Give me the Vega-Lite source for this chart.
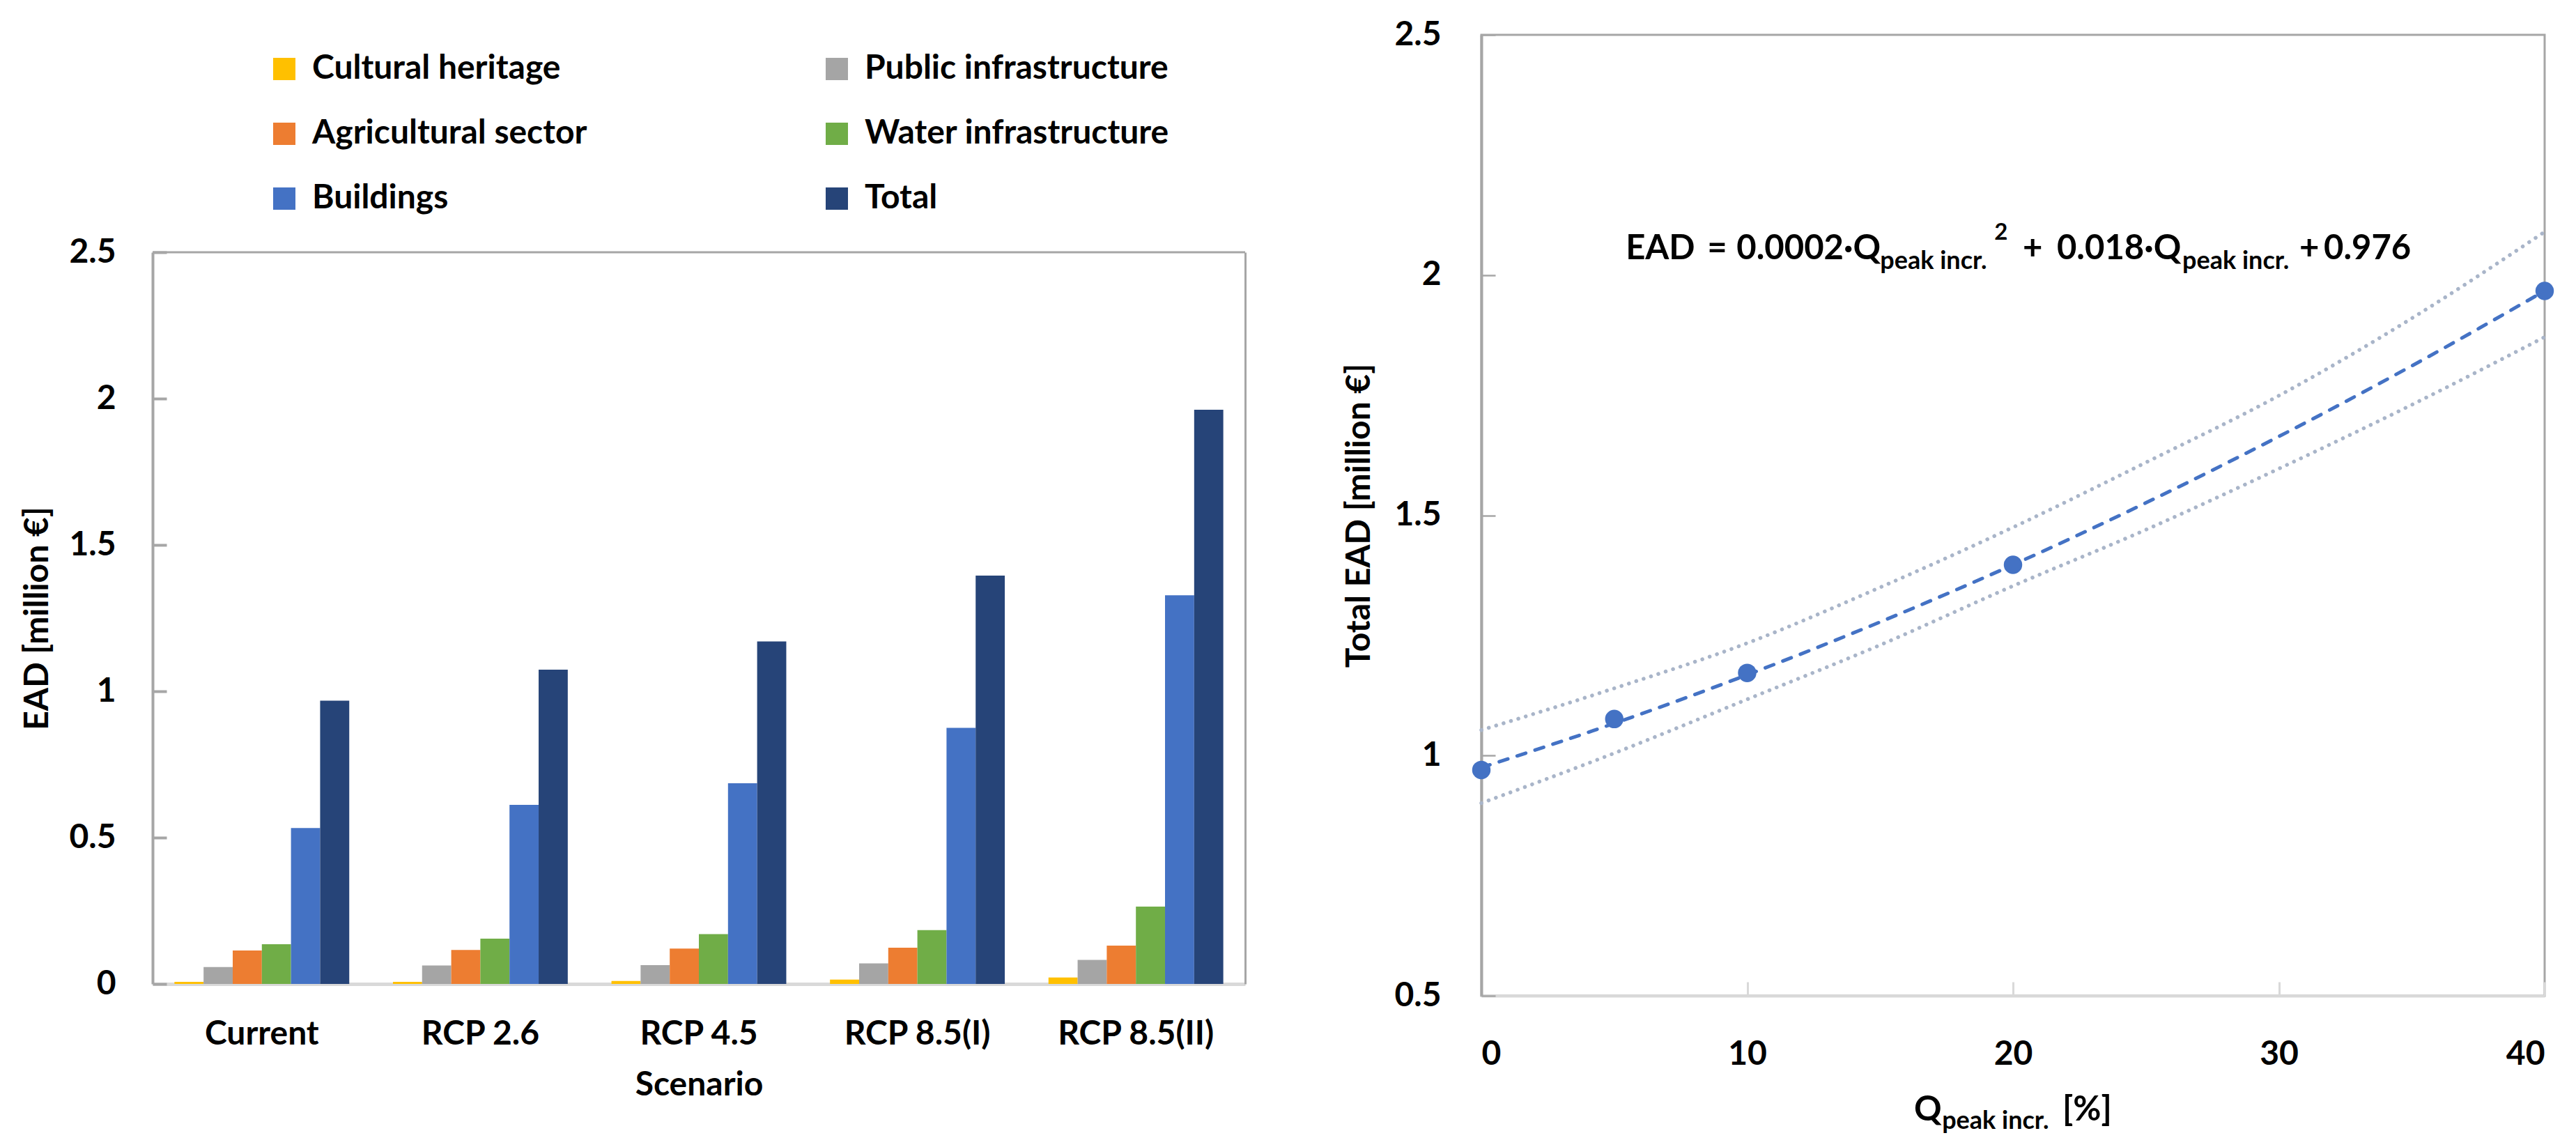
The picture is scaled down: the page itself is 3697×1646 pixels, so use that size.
{
  "$schema": "https://vega.github.io/schema/vega-lite/v6.json",
  "background": "white",
  "padding": {"left": 30, "top": 24, "right": 0, "bottom": 0},
  "spacing": 137,
  "config": {
    "font": "Lato",
    "view": {"stroke": "#a6a6a6", "strokeWidth": 3},
    "axis": {
      "labelFont": "Lato", "labelFontWeight": "bold", "labelFontSize": 48, "labelColor": "#000000",
      "titleFont": "Lato", "titleFontWeight": "bold", "titleFontSize": 48, "titleColor": "#000000",
      "grid": false, "labelLimit": 1000
    },
    "text": {"font": "Lato", "fontWeight": "bold", "color": "#000000", "align": "left", "baseline": "alphabetic"}
  },
  "datasets": {
    "bars": [
      {"scenario": "Current", "category": "Cultural heritage", "value": 0.007},
      {"scenario": "Current", "category": "Public infrastructure", "value": 0.058},
      {"scenario": "Current", "category": "Agricultural sector", "value": 0.114},
      {"scenario": "Current", "category": "Water infrastructure", "value": 0.136},
      {"scenario": "Current", "category": "Buildings", "value": 0.533},
      {"scenario": "Current", "category": "Total", "value": 0.968},
      {"scenario": "RCP 2.6", "category": "Cultural heritage", "value": 0.007},
      {"scenario": "RCP 2.6", "category": "Public infrastructure", "value": 0.063},
      {"scenario": "RCP 2.6", "category": "Agricultural sector", "value": 0.116},
      {"scenario": "RCP 2.6", "category": "Water infrastructure", "value": 0.155},
      {"scenario": "RCP 2.6", "category": "Buildings", "value": 0.612},
      {"scenario": "RCP 2.6", "category": "Total", "value": 1.074},
      {"scenario": "RCP 4.5", "category": "Cultural heritage", "value": 0.010},
      {"scenario": "RCP 4.5", "category": "Public infrastructure", "value": 0.064},
      {"scenario": "RCP 4.5", "category": "Agricultural sector", "value": 0.121},
      {"scenario": "RCP 4.5", "category": "Water infrastructure", "value": 0.170},
      {"scenario": "RCP 4.5", "category": "Buildings", "value": 0.686},
      {"scenario": "RCP 4.5", "category": "Total", "value": 1.170},
      {"scenario": "RCP 8.5(I)", "category": "Cultural heritage", "value": 0.015},
      {"scenario": "RCP 8.5(I)", "category": "Public infrastructure", "value": 0.070},
      {"scenario": "RCP 8.5(I)", "category": "Agricultural sector", "value": 0.124},
      {"scenario": "RCP 8.5(I)", "category": "Water infrastructure", "value": 0.184},
      {"scenario": "RCP 8.5(I)", "category": "Buildings", "value": 0.875},
      {"scenario": "RCP 8.5(I)", "category": "Total", "value": 1.395},
      {"scenario": "RCP 8.5(II)", "category": "Cultural heritage", "value": 0.022},
      {"scenario": "RCP 8.5(II)", "category": "Public infrastructure", "value": 0.082},
      {"scenario": "RCP 8.5(II)", "category": "Agricultural sector", "value": 0.131},
      {"scenario": "RCP 8.5(II)", "category": "Water infrastructure", "value": 0.264},
      {"scenario": "RCP 8.5(II)", "category": "Buildings", "value": 1.328},
      {"scenario": "RCP 8.5(II)", "category": "Total", "value": 1.962}
    ],
    "points": [
      {"q": 0, "ead": 0.970},
      {"q": 5, "ead": 1.076},
      {"q": 10, "ead": 1.172},
      {"q": 20, "ead": 1.397},
      {"q": 40, "ead": 1.967}
    ],
    "curves": [
      {"q": 0, "fit": 0.975, "upper": 1.053, "lower": 0.901},
      {"q": 5, "fit": 1.067, "upper": 1.140, "lower": 1.005},
      {"q": 10, "fit": 1.168, "upper": 1.234, "lower": 1.117},
      {"q": 15, "fit": 1.278, "upper": 1.350, "lower": 1.230},
      {"q": 20, "fit": 1.397, "upper": 1.475, "lower": 1.353},
      {"q": 25, "fit": 1.526, "upper": 1.610, "lower": 1.470},
      {"q": 30, "fit": 1.664, "upper": 1.749, "lower": 1.597},
      {"q": 35, "fit": 1.811, "upper": 1.910, "lower": 1.730},
      {"q": 40, "fit": 1.967, "upper": 2.090, "lower": 1.871}
    ]
  },
  "hconcat": [
    {
      "width": 1568,
      "height": 1362,
      "view": {"stroke": null},
      "layer": [
        {
          "data": {"name": "bars"},
          "mark": {"type": "bar"},
          "encoding": {
            "x": {
              "field": "scenario", "type": "nominal",
              "sort": ["Current", "RCP 2.6", "RCP 4.5", "RCP 8.5(I)", "RCP 8.5(II)"],
              "scale": {"paddingInner": 0.2, "paddingOuter": 0.1},
              "axis": {"title": "Scenario", "labelAngle": 0, "ticks": false, "domainColor": "#d9d9d9", "domainWidth": 5, "labelPadding": 48, "titlePadding": 25}
            },
            "xOffset": {
              "field": "category", "type": "nominal",
              "sort": ["Cultural heritage", "Public infrastructure", "Agricultural sector", "Water infrastructure", "Buildings", "Total"],
              "scale": {"paddingInner": 0, "paddingOuter": 0}
            },
            "y": {
              "field": "value", "type": "quantitative",
              "scale": {"domain": [0, 2.5], "range": [1362, 312], "nice": false, "padding": 0},
              "axis": {"title": "EAD [million €]", "values": [0, 0.5, 1, 1.5, 2, 2.5], "format": ".1~f", "domainColor": "#a6a6a6", "domainWidth": 4, "tickColor": "#a6a6a6", "tickWidth": 4, "tickSize": -20, "labelPadding": 73, "titlePadding": 20}
            },
            "color": {
              "field": "category", "type": "nominal",
              "scale": {
                "domain": ["Cultural heritage", "Public infrastructure", "Agricultural sector", "Water infrastructure", "Buildings", "Total"],
                "range": ["#FFC000", "#A5A5A5", "#ED7D31", "#70AD47", "#4472C4", "#264478"]
              },
              "legend": {
                "title": null, "orient": "none", "legendX": 165, "legendY": 25, "direction": "horizontal",
                "columns": 2, "columnPadding": 334, "rowPadding": 45,
                "symbolType": "square", "symbolSize": 1024, "symbolStrokeWidth": 0, "symbolOpacity": 1,
                "labelFont": "Lato", "labelFontWeight": "bold", "labelFontSize": 48, "labelColor": "#000000",
                "labelOffset": 16, "labelLimit": 1000
              }
            }
          }
        },
        {
          "data": {"values": [{"edge": "top"}]},
          "mark": {"type": "rule", "color": "#a6a6a6", "strokeWidth": 3},
          "encoding": {
            "y": {"datum": 2.5, "type": "quantitative",
              "axis": {"orient": "right", "labels": false, "ticks": false, "title": null, "domainColor": "#a6a6a6", "domainWidth": 3}}
          }
        }
      ],
      "resolve": {"axis": {"y": "independent"}}
    },
    {
      "width": 1526,
      "height": 1379,
      "layer": [
        {
          "data": {"name": "curves"},
          "mark": {"type": "line", "color": "#A9B5C9", "strokeWidth": 5.5, "strokeCap": "round", "strokeDash": [0.1, 11], "interpolate": "monotone"},
          "encoding": {
            "x": {"field": "q", "type": "quantitative", "title": null, "scale": {"domain": [0, 40], "nice": false, "padding": 0, "zero": false},
              "axis": {"values": [0, 10, 20, 30, 40], "tickSize": -20, "tickColor": "#d9d9d9", "tickWidth": 3, "domainColor": "#d9d9d9", "domainWidth": 4, "labelPadding": 80}},
            "y": {"field": "upper", "type": "quantitative", "title": "Total EAD [million €]", "scale": {"domain": [0.5, 2.5], "nice": false, "padding": 0, "zero": false},
              "axis": {"values": [0.5, 1, 1.5, 2, 2.5], "format": ".1~f", "tickSize": -20, "tickColor": "#a6a6a6", "tickWidth": 2.5, "domainColor": "#a6a6a6", "domainWidth": 4, "labelPadding": 78, "titlePadding": 25}}
          }
        },
        {
          "data": {"name": "curves"},
          "mark": {"type": "line", "color": "#A9B5C9", "strokeWidth": 5.5, "strokeCap": "round", "strokeDash": [0.1, 11], "interpolate": "monotone"},
          "encoding": {
            "x": {"field": "q", "type": "quantitative", "title": null},
            "y": {"field": "lower", "type": "quantitative", "title": "Total EAD [million €]"}
          }
        },
        {
          "data": {"name": "curves"},
          "mark": {"type": "line", "color": "#4472C4", "strokeWidth": 5, "strokeCap": "round", "strokeDash": [13, 14], "interpolate": "monotone"},
          "encoding": {
            "x": {"field": "q", "type": "quantitative", "title": null},
            "y": {"field": "fit", "type": "quantitative", "title": "Total EAD [million €]"}
          }
        },
        {
          "data": {"name": "points"},
          "mark": {"type": "point", "filled": true, "size": 700, "color": "#4472C4", "opacity": 1},
          "encoding": {
            "x": {"field": "q", "type": "quantitative", "title": null},
            "y": {"field": "ead", "type": "quantitative", "title": "Total EAD [million €]"}
          }
        },
        {"data": {"values": [{"label": "EAD"}]}, "mark": {"type": "text", "fontSize": 49},
          "encoding": {"x": {"datum": 5.43}, "y": {"datum": 2.033}, "text": {"field": "label"}}},
        {"data": {"values": [{"label": "="}]}, "mark": {"type": "text", "fontSize": 49},
          "encoding": {"x": {"datum": 8.5}, "y": {"datum": 2.033}, "text": {"field": "label"}}},
        {"data": {"values": [{"label": "0.0002·Q"}]}, "mark": {"type": "text", "fontSize": 49},
          "encoding": {"x": {"datum": 9.6}, "y": {"datum": 2.033}, "text": {"field": "label"}}},
        {"data": {"values": [{"label": "peak incr."}]}, "mark": {"type": "text", "fontSize": 36},
          "encoding": {"x": {"datum": 15.0}, "y": {"datum": 2.0134}, "text": {"field": "label"}}},
        {"data": {"values": [{"label": "2"}]}, "mark": {"type": "text", "fontSize": 33},
          "encoding": {"x": {"datum": 19.3}, "y": {"datum": 2.0736}, "text": {"field": "label"}}},
        {"data": {"values": [{"label": "+"}]}, "mark": {"type": "text", "fontSize": 49},
          "encoding": {"x": {"datum": 20.37}, "y": {"datum": 2.033}, "text": {"field": "label"}}},
        {"data": {"values": [{"label": "0.018·Q"}]}, "mark": {"type": "text", "fontSize": 49},
          "encoding": {"x": {"datum": 21.65}, "y": {"datum": 2.033}, "text": {"field": "label"}}},
        {"data": {"values": [{"label": "peak incr."}]}, "mark": {"type": "text", "fontSize": 36},
          "encoding": {"x": {"datum": 26.37}, "y": {"datum": 2.0134}, "text": {"field": "label"}}},
        {"data": {"values": [{"label": "+"}]}, "mark": {"type": "text", "fontSize": 49},
          "encoding": {"x": {"datum": 30.77}, "y": {"datum": 2.033}, "text": {"field": "label"}}},
        {"data": {"values": [{"label": "0.976"}]}, "mark": {"type": "text", "fontSize": 49},
          "encoding": {"x": {"datum": 31.69}, "y": {"datum": 2.033}, "text": {"field": "label"}}},
        {"data": {"values": [{"label": "Q"}]}, "mark": {"type": "text", "fontSize": 49},
          "encoding": {"x": {"datum": 16.28}, "y": {"datum": 0.2404}, "text": {"field": "label"}}},
        {"data": {"values": [{"label": "peak incr."}]}, "mark": {"type": "text", "fontSize": 36},
          "encoding": {"x": {"datum": 17.33}, "y": {"datum": 0.2230}, "text": {"field": "label"}}},
        {"data": {"values": [{"label": "[%]"}]}, "mark": {"type": "text", "fontSize": 49},
          "encoding": {"x": {"datum": 21.86}, "y": {"datum": 0.2404}, "text": {"field": "label"}}}
      ]
    }
  ]
}
